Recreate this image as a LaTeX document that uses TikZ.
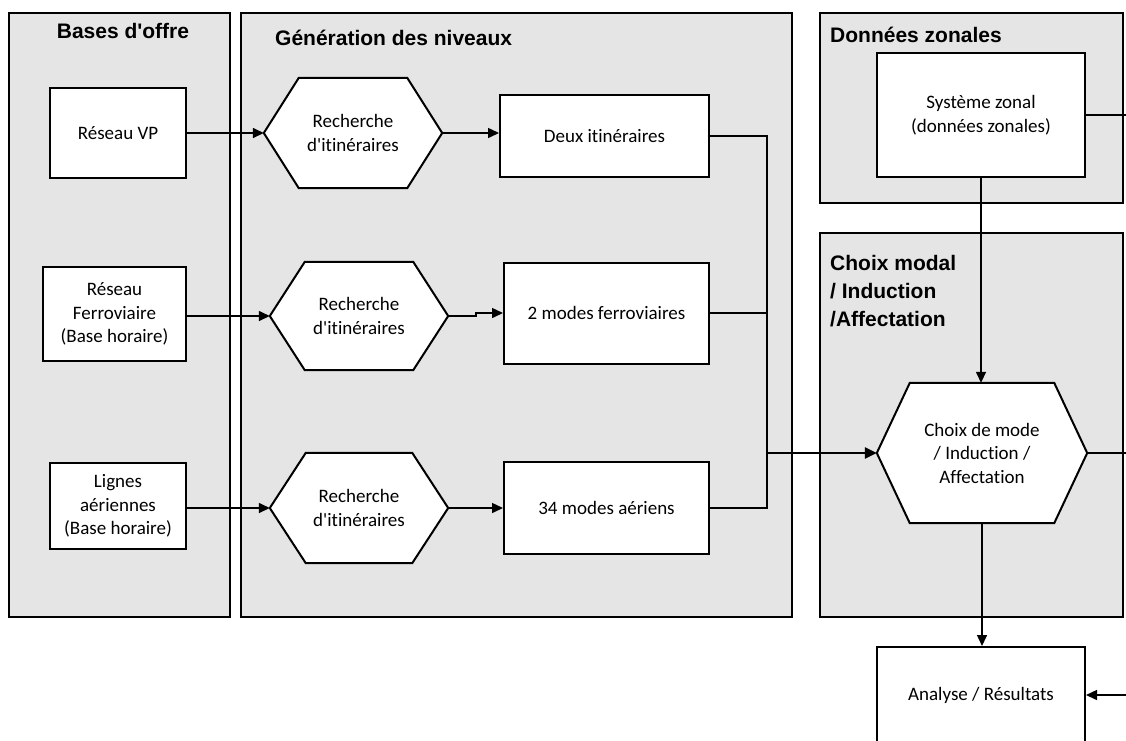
\documentclass[tikz,border=0pt]{standalone}
\usepackage{fontspec}
\setmainfont{Carlito}[Ligatures={CommonOff,TeXOff}]
\newfontfamily\ttlfam{Liberation Sans}[Ligatures=TeXOff]
\usetikzlibrary{arrows.meta,calc}
\definecolor{panelgray}{HTML}{E5E5E5}
\pgfdeclarelayer{panels}
\pgfdeclarelayer{hexes}
\pgfsetlayers{panels,hexes,main}
\newcommand\bfnt{\fontsize{19}{23.5}\selectfont}
\newcommand\tfnt{\ttlfam\bfseries\fontsize{21}{28}\selectfont}
\newcommand\hexdraw[2]{%
  \begin{pgfonlayer}{hexes}
  \draw[hexline] (#1.west) -- ([xshift=#2pt]#1.north west) -- ([xshift=-#2pt]#1.north east)
     -- (#1.east) -- ([xshift=-#2pt]#1.south east) -- ([xshift=#2pt]#1.south west) -- cycle;
  \end{pgfonlayer}}
\begin{document}
\begin{tikzpicture}[x=1pt,y=-1pt,
  panel/.style={draw=black, fill=panelgray, line width=1.5pt},
  box/.style={draw=black, fill=white, line width=2pt, align=center, font=\bfnt, inner sep=0pt},
  hexbox/.style={draw=none, align=center, font=\bfnt, inner sep=0pt},
  hexline/.style={draw=black, fill=white, line width=2pt, line join=miter},
  title/.style={font=\tfnt, anchor=base west, align=left, inner sep=0pt},
  conn/.style={line width=1.5pt},
  arr/.style={conn, -{Triangle[length=11pt,width=10pt]}},
  thickarr/.style={line width=2.5pt, -{Triangle[length=12pt,width=11pt]}},
]
\path[use as bounding box, clip] (0,0) rectangle (1126,740);

% panels
\begin{pgfonlayer}{panels}
\draw[panel] (9,13) rectangle (230,617);
\draw[panel] (241,13) rectangle (792,617);
\draw[panel] (820,13) rectangle (1123,203);
\draw[panel] (820,233) rectangle (1123,617);
\end{pgfonlayer}

% titles
\node[title, anchor=base] (t1) at (123,38.5) {Bases d'offre};
\node[title] (t2) at (275,45.5) {Génération des niveaux};
\node[title] (t3) at (830,42.5) {Données zonales};
\node[title, anchor=north west] (t4) at (830,255) {Choix modal\\/ Induction\\/Affectation};

% left column
\node[box, minimum width=136pt, minimum height=90pt] (vp) at (118,133) {Réseau VP};
\node[box, minimum width=143pt, minimum height=94pt] (fer) at (114.5,314) {Réseau\\Ferroviaire\\(Base horaire)};
\node[box, minimum width=136pt, minimum height=86pt] (air) at (118,506) {Lignes\\aériennes\\(Base horaire)};

% hexagons
\node[hexbox, minimum width=178pt, minimum height=110pt] (h1) at (353,133) {Recherche\\d'itinéraires};
\node[hexbox, minimum width=178pt, minimum height=108pt] (h2) at (359,316) {Recherche\\d'itinéraires};
\node[hexbox, minimum width=178pt, minimum height=110pt] (h3) at (359,508) {Recherche\\d'itinéraires};
\hexdraw{h1}{35}
\hexdraw{h2}{35}
\hexdraw{h3}{36}

% results
\node[box, minimum width=209pt, minimum height=82pt] (d1) at (604.5,136) {Deux itinéraires};
\node[box, minimum width=205pt, minimum height=101pt] (d2) at (606.5,313) {2 modes ferroviaires};
\node[box, minimum width=205pt, minimum height=92pt] (d3) at (606.5,508) {34 modes aériens};

% right column
\node[box, minimum width=208pt, minimum height=124pt] (sz) at (981,115) {Système zonal\\(données zonales)};
\node[hexbox, minimum width=210pt, minimum height=140pt] (ch) at (982,453) {Choix de mode\\/ Induction /\\Affectation};
\hexdraw{ch}{33}
\node[box, minimum width=208pt, minimum height=96pt] (an) at (981,695) {Analyse / Résultats};

\coordinate (j) at (767,453);
\coordinate (ez) at (1127,115);
\coordinate (ec) at (1127,453);
\coordinate (ea) at (1127,695);

% connectors
\draw[arr] (vp.east) -- (h1.west);
\draw[arr] (h1.east) -- (h1.east -| d1.west);
\draw[arr] (fer.east |- h2.west) -- (h2.west);
\draw[arr] (h2.east) -- ++(28,0) |- (d2.west);
\draw[arr] (air.east |- h3.west) -- (h3.west);
\draw[arr] (h3.east) -- (d3.west);
\draw[conn] (d1.east) -| (j);
\draw[conn] (d2.east) -- (d2.east -| j);
\draw[conn] (d3.east) -| (j);
\draw[thickarr] (j) -- (ch.west);
\draw[arr] (sz.south) -- (sz.south |- ch.north);
\draw[conn] (sz.east) -- (ez);
\draw[conn] (ch.east) -- (ec);
\draw[arr] (ch.south) -- (ch.south |- an.north);
\draw[arr] (ea) -- (an.east);
\end{tikzpicture}
\end{document}
